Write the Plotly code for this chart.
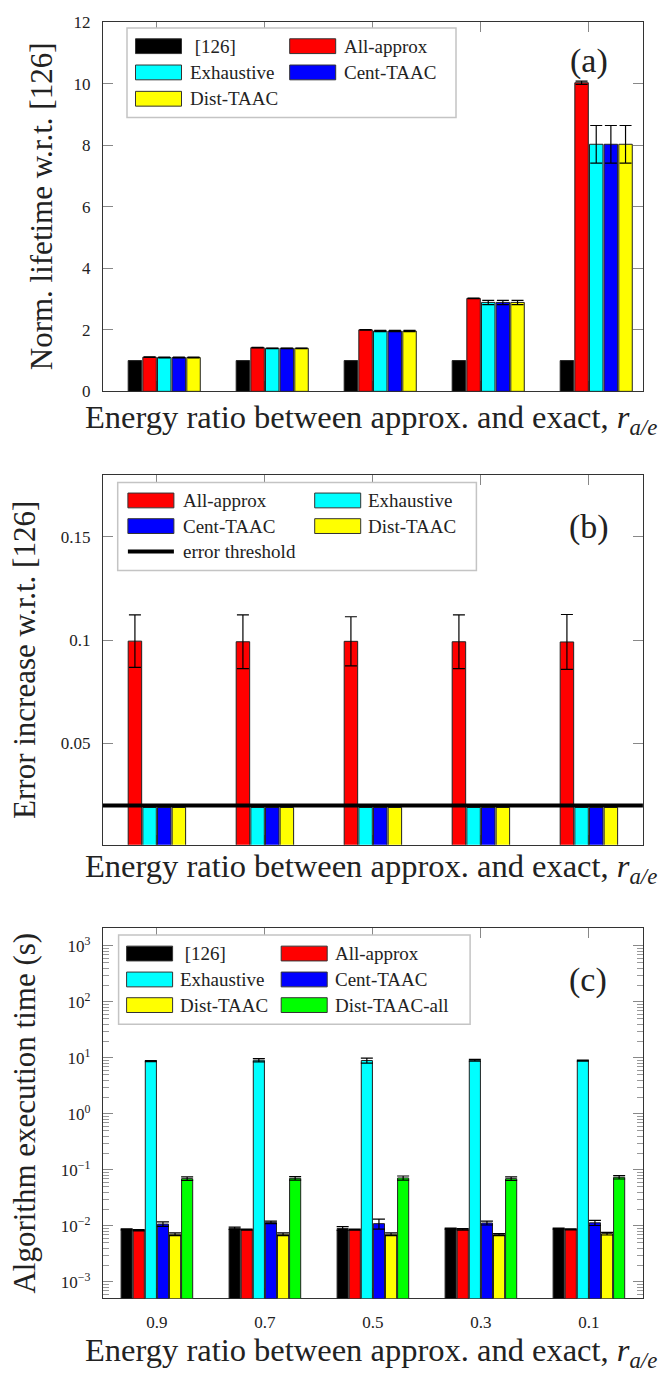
import plotly.graph_objects as go

W, H = 662, 1382
FONT = "Liberation Serif"

ratio_labels = ['0.9', '0.7', '0.5', '0.3', '0.1']

colors = {
    '[126]': '#000000',
    'All-approx': '#ff0000',
    'Exhaustive': '#00ffff',
    'Cent-TAAC': '#0000ff',
    'Dist-TAAC': '#ffff00',
    'Dist-TAAC-all': '#00ff00',
}

# (a) normalized lifetime w.r.t. [126]
life_ref = [1.0, 1.0, 1.0, 1.0, 1.0]
life_ref_err = [0.0, 0.0, 0.0, 0.0, 0.0]
life_allapprox = [1.11, 1.42, 2.00, 3.02, 10.03]
life_allapprox_err = [0.01, 0.01, 0.01, 0.01, 0.05]
life_exhaustive = [1.10, 1.40, 1.96, 2.89, 8.03]
life_exhaustive_err = [0.01, 0.01, 0.02, 0.07, 0.61]
life_cent = [1.10, 1.40, 1.96, 2.89, 8.03]
life_cent_err = [0.01, 0.01, 0.02, 0.07, 0.61]
life_dist = [1.10, 1.40, 1.96, 2.89, 8.03]
life_dist_err = [0.01, 0.01, 0.02, 0.07, 0.61]

# (b) error increase w.r.t. [126]
err_allapprox = [0.0995, 0.0992, 0.0994, 0.0992, 0.0991]
err_allapprox_err = [0.0127, 0.0130, 0.0119, 0.0130, 0.0133]
err_exhaustive = [0.019, 0.019, 0.019, 0.019, 0.019]
err_cent = [0.019, 0.019, 0.019, 0.019, 0.019]
err_dist = [0.019, 0.019, 0.019, 0.019, 0.019]
error_threshold = 0.02

# (c) algorithm execution time (s)
time_ref = [0.0087, 0.0091, 0.0090, 0.0090, 0.0090]
time_ref_err = [0.0002, 0.0004, 0.0007, 0.0002, 0.0002]
time_allapprox = [0.0084, 0.0086, 0.0086, 0.0087, 0.0087]
time_allapprox_err = [0.0002, 0.0002, 0.0002, 0.0003, 0.0002]
time_exhaustive = [8.8, 9.1, 9.0, 9.1, 9.0]
time_exhaustive_err = [0.2, 0.6, 0.9, 0.3, 0.2]
time_cent = [0.0108, 0.0116, 0.0110, 0.0113, 0.0114]
time_cent_err = [0.0010, 0.0006, 0.0022, 0.0009, 0.0012]
time_dist = [0.0071, 0.0071, 0.0071, 0.0070, 0.0073]
time_dist_err = [0.0004, 0.0004, 0.0004, 0.0003, 0.0004]
time_distall = [0.070, 0.071, 0.072, 0.070, 0.074]
time_distall_err = [0.005, 0.005, 0.006, 0.005, 0.005]

log_tickvals = [1e-3, 1e-2, 1e-1, 1e0, 1e1, 1e2, 1e3]
log_ticktext = ['10<sup>\u22123</sup>', '10<sup>\u22122</sup>', '10<sup>\u22121</sup>',
                '10<sup>0</sup>', '10<sup>1</sup>', '10<sup>2</sup>', '10<sup>3</sup>']


def px(x):
    return x / W


def py(y):
    return 1 - y / H


fig = go.Figure()

# bar slot geometry (category units)
PITCH_AB = 0.1357
PITCH_C = 0.112


def add_bars(name, vals, errs, slot, nslots, pitch, axis_suffix):
    left = -nslots / 2 * pitch + slot * pitch
    show_err = any(e > 0 for e in errs)
    fig.add_trace(go.Bar(
        x=ratio_labels, y=vals, name=name,
        marker=dict(color=colors[name], line=dict(color='#222222', width=1)),
        offset=left + pitch * 0.04, width=pitch * 0.92,
        error_y=dict(type='data', array=errs, visible=show_err,
                     color='#000000', thickness=1.2, width=6),
        xaxis='x' + axis_suffix, yaxis='y' + axis_suffix,
        showlegend=False,
    ))


# panel (a)
add_bars('[126]', life_ref, life_ref_err, 1, 6, PITCH_AB, '')
add_bars('All-approx', life_allapprox, life_allapprox_err, 2, 6, PITCH_AB, '')
add_bars('Exhaustive', life_exhaustive, life_exhaustive_err, 3, 6, PITCH_AB, '')
add_bars('Cent-TAAC', life_cent, life_cent_err, 4, 6, PITCH_AB, '')
add_bars('Dist-TAAC', life_dist, life_dist_err, 5, 6, PITCH_AB, '')

# panel (b)
zero = [0.0] * 5
add_bars('All-approx', err_allapprox, err_allapprox_err, 1, 6, PITCH_AB, '2')
add_bars('Exhaustive', err_exhaustive, zero, 2, 6, PITCH_AB, '2')
add_bars('Cent-TAAC', err_cent, zero, 3, 6, PITCH_AB, '2')
add_bars('Dist-TAAC', err_dist, zero, 4, 6, PITCH_AB, '2')

# panel (c)
add_bars('[126]', time_ref, time_ref_err, 0, 6, PITCH_C, '3')
add_bars('All-approx', time_allapprox, time_allapprox_err, 1, 6, PITCH_C, '3')
add_bars('Exhaustive', time_exhaustive, time_exhaustive_err, 2, 6, PITCH_C, '3')
add_bars('Cent-TAAC', time_cent, time_cent_err, 3, 6, PITCH_C, '3')
add_bars('Dist-TAAC', time_dist, time_dist_err, 4, 6, PITCH_C, '3')
add_bars('Dist-TAAC-all', time_distall, time_distall_err, 5, 6, PITCH_C, '3')

XDOM = [px(102.9), px(642.9)]
frame = dict(showline=True, linecolor='#333333', linewidth=1, mirror='ticks',
             ticks='inside', ticklen=10, tickcolor='#888888', tickwidth=1,
             showgrid=False, zeroline=False, layer='below traces',
             tickfont=dict(family=FONT, size=17, color='#222222'))

xcommon = dict(frame, type='category', range=[-0.5, 4.5], domain=XDOM)

fig.update_layout(
    width=W, height=H,
    margin=dict(l=0, r=0, t=0, b=0),
    paper_bgcolor='white', plot_bgcolor='white',
    barmode='overlay',
    font=dict(family=FONT, color='#222222'),
    xaxis=dict(xcommon, anchor='y', showticklabels=False),
    yaxis=dict(frame, anchor='x', domain=[py(387.7), py(13.3)], range=[0, 12],
               tickmode='linear', tick0=0, dtick=2, ticklabelstandoff=8),
    xaxis2=dict(xcommon, anchor='y2', showticklabels=False),
    yaxis2=dict(frame, anchor='x2', domain=[py(847.3), py(472.3)], range=[0.001, 0.180],
                tickvals=[0.05, 0.1, 0.15], ticktext=['0.05', '0.1', '0.15'],
                ticklabelstandoff=8),
    xaxis3=dict(xcommon, anchor='y3', showticklabels=True, ticklabelstandoff=8),
    yaxis3=dict(frame, anchor='x3', domain=[py(1307.3), py(932.3)], type='log',
                range=[-3.292, 3.312], tickmode='array', tickvals=log_tickvals,
                ticktext=log_ticktext, ticklabelstandoff=8,
                minor=dict(ticks='inside', ticklen=6, tickcolor='#999999',
                           dtick='D1', showgrid=False)),
)

# error threshold in panel (b)
fig.add_shape(type='line', xref='x2 domain', yref='y2', x0=0, x1=1,
              y0=error_threshold, y1=error_threshold,
              line=dict(color='#000000', width=4), layer='above')

shapes = []
annotations = []


def text(x, y, s, size, anchor='left', angle=0):
    annotations.append(dict(x=px(x), y=py(y), xref='paper', yref='paper', text=s,
                            showarrow=False, xanchor=anchor, yanchor='middle',
                            textangle=angle,
                            font=dict(family=FONT, size=size, color='#222222')))


def add_legend(box, sw_x, tx_x, rows_y, entries):
    x0, y0, x1, y1 = box
    shapes.append(dict(type='rect', xref='paper', yref='paper',
                       x0=px(x0), x1=px(x1), y0=py(y1), y1=py(y0),
                       line=dict(color='#c4c4c4', width=1.5), fillcolor='white',
                       layer='above'))
    for i, name in enumerate(entries):
        r, c = divmod(i, 2)
        yc = rows_y[r]
        if name == 'error threshold':
            shapes.append(dict(type='line', xref='paper', yref='paper',
                               x0=px(sw_x[c]), x1=px(sw_x[c] + 46),
                               y0=py(yc), y1=py(yc),
                               line=dict(color='#000000', width=4), layer='above'))
        else:
            shapes.append(dict(type='rect', xref='paper', yref='paper',
                               x0=px(sw_x[c]), x1=px(sw_x[c] + 46),
                               y0=py(yc + 7.5), y1=py(yc - 7.5),
                               fillcolor=colors[name],
                               line=dict(color='#333333', width=1), layer='above'))
        label = name if name != '[126]' else '\u00a0[126]'
        text(tx_x[c], yc, label, 19)


add_legend((127, 19.3, 456, 110), (135.5, 289.7), (187.6, 341.8), (37.7, 64.3, 91),
           ['[126]', 'All-approx', 'Exhaustive', 'Cent-TAAC', 'Dist-TAAC'])
add_legend((117.7, 480, 476.4, 569.3), (127.9, 314.7), (181.3, 366.3), (498.3, 524.3, 550),
           ['All-approx', 'Exhaustive', 'Cent-TAAC', 'Dist-TAAC', 'error threshold'])
add_legend((118.6, 939, 470.1, 1029.3), (126.6, 281.2), (177.9, 332.9), (957.7, 984, 1010),
           ['[126]', 'All-approx', 'Exhaustive', 'Cent-TAAC', 'Dist-TAAC', 'Dist-TAAC-all'])

# panel tags
text(588.7, 53, '(a)', 34, anchor='center')
text(589, 525, '(b)', 34, anchor='center')
text(588, 985, '(c)', 34, anchor='center')

# axis titles
xtitle = 'Energy ratio between approx. and exact, <i>r</i><sub><i>a/e</i></sub>'
text(82.6, 416, xtitle, 32.5)
text(82.6, 871, xtitle, 32.5)
text(82.6, 1362, xtitle, 32.5)
text(41, 200, 'Norm. lifetime w.r.t. [126]', 31, anchor='center', angle=-90)
text(25, 660, 'Error increase w.r.t. [126]', 31, anchor='center', angle=-90)
text(25, 1120, 'Algorithm execution time (s)', 31, anchor='center', angle=-90)

fig.update_layout(shapes=list(fig.layout.shapes) + shapes, annotations=annotations)

fig.write_html("out.html")
